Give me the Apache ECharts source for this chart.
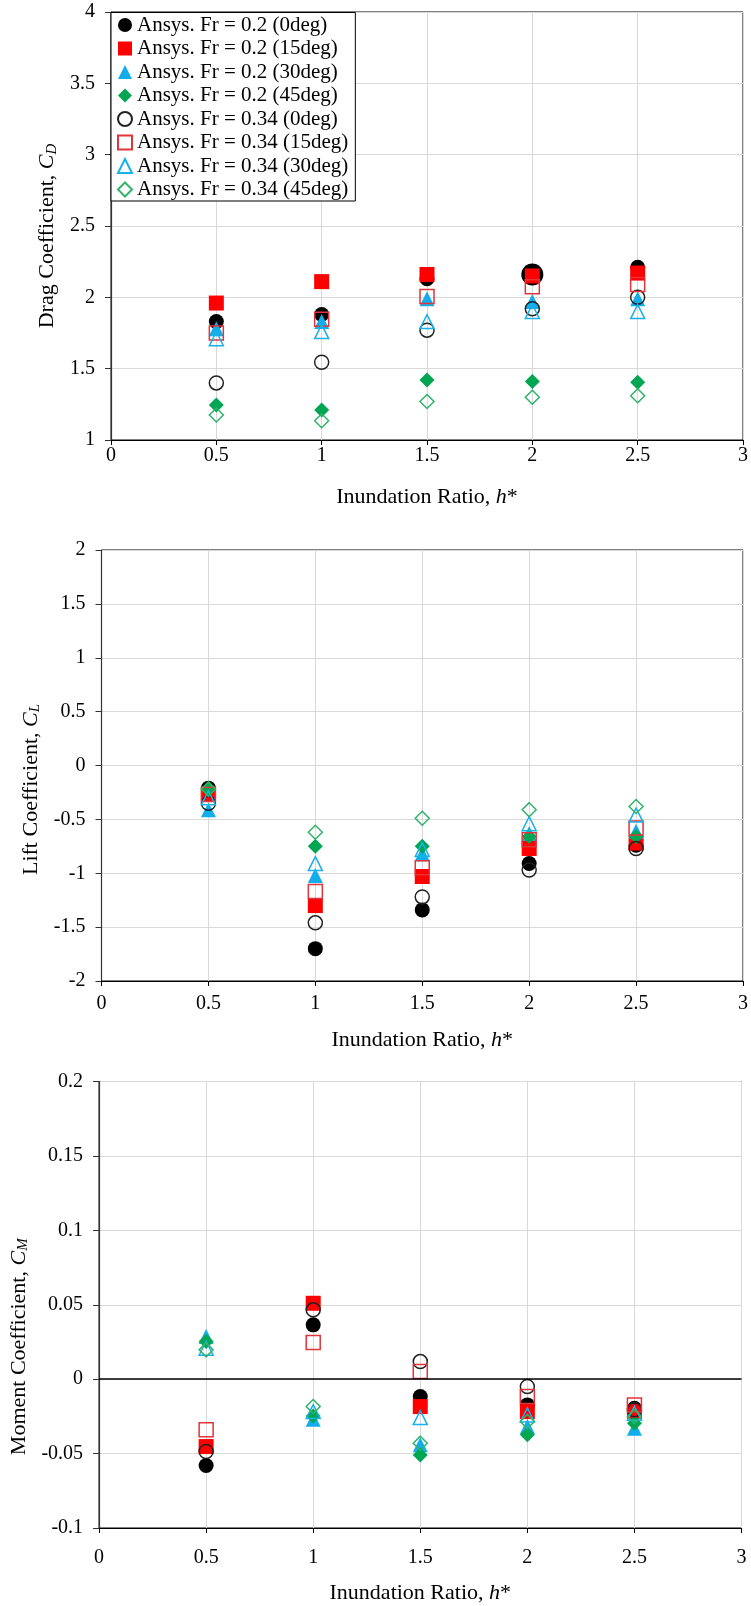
<!DOCTYPE html>
<html>
<head>
<meta charset="utf-8">
<script src="https://cdn.jsdelivr.net/npm/echarts@6/dist/echarts.min.js"></script>
<style>
html,body{margin:0;padding:0;background:#fff;}
#chart{width:751px;height:1606px;}
</style>
</head>
<body>
<div id="chart"></div>
<script>
// ---------- data ----------
const hStar = [0.5, 1, 1.5, 2, 2.5];
const seriesNames = [
  'Ansys. Fr = 0.2 (0deg)', 'Ansys. Fr = 0.2 (15deg)', 'Ansys. Fr = 0.2 (30deg)', 'Ansys. Fr = 0.2 (45deg)',
  'Ansys. Fr = 0.34 (0deg)', 'Ansys. Fr = 0.34 (15deg)', 'Ansys. Fr = 0.34 (30deg)', 'Ansys. Fr = 0.34 (45deg)'
];
// Drag coefficient C_D
const cdFr02_0   = [1.83, 1.88, 2.13, 2.16, 2.21];
const cdFr02_15  = [1.96, 2.11, 2.16, 2.15, 2.17];
const cdFr02_30  = [1.78, 1.83, 1.99, 1.97, 1.99];
const cdFr02_45  = [1.245, 1.21, 1.42, 1.41, 1.405];
const cdFr034_0  = [1.40, 1.545, 1.77, 1.92, 2.00];
const cdFr034_15 = [1.75, 1.846, 2.005, 2.075, 2.09];
const cdFr034_30 = [1.71, 1.76, 1.83, 1.90, 1.90];
const cdFr034_45 = [1.175, 1.135, 1.27, 1.30, 1.31];
// Lift coefficient C_L
const clFr02_0   = [-0.21, -1.70, -1.34, -0.91, -0.74];
const clFr02_15  = [-0.26, -1.30, -1.03, -0.77, -0.72];
const clFr02_30  = [-0.41, -1.02, -0.82, -0.63, -0.61];
const clFr02_45  = [-0.21, -0.75, -0.75, -0.66, -0.66];
const clFr034_0  = [-0.35, -1.46, -1.22, -0.97, -0.77];
const clFr034_15 = [-0.27, -1.17, -0.95, -0.69, -0.58];
const clFr034_30 = [-0.30, -0.91, -0.78, -0.54, -0.46];
const clFr034_45 = [-0.22, -0.62, -0.49, -0.41, -0.38];
// Moment coefficient C_M
const cmFr02_0   = [-0.058, 0.0365, -0.0117, -0.0173, -0.0195];
const cmFr02_15  = [-0.0453, 0.051, -0.0184, -0.0218, -0.0218];
const cmFr02_30  = [0.0286, -0.0269, -0.044, -0.0318, -0.033];
const cmFr02_45  = [0.0253, -0.0247, -0.0509, -0.0374, -0.0296];
const cmFr034_0  = [-0.0486, 0.0466, 0.0118, -0.005, -0.0206];
const cmFr034_15 = [-0.034, 0.0246, 0.0051, -0.0117, -0.0173];
const cmFr034_30 = [0.0208, -0.0218, -0.0258, -0.024, -0.0229];
const cmFr034_45 = [0.0197, -0.0184, -0.043, -0.0285, -0.025];

const xTitle = 'Inundation Ratio, {i|h}*';
const yTitles = ['Drag Coefficient, {i|C}{s|D}', 'Lift Coefficient, {i|C}{s|L}', 'Moment Coefficient, {i|C}{s|M}'];
const yMin = [1, -2, -0.1], yMax = [4, 2, 0.2], yStep = [0.5, 0.5, 0.05];

const panels = [
  [cdFr02_0, cdFr02_15, cdFr02_30, cdFr02_45, cdFr034_0, cdFr034_15, cdFr034_30, cdFr034_45],
  [clFr02_0, clFr02_15, clFr02_30, clFr02_45, clFr034_0, clFr034_15, clFr034_30, clFr034_45],
  [cmFr02_0, cmFr02_15, cmFr02_30, cmFr02_45, cmFr034_0, cmFr034_15, cmFr034_30, cmFr034_45]
];

// ---------- styling ----------
const FONT = '"Liberation Serif", "Times New Roman", serif';
const markStyles = [
  {symbol: 'circle',   color: '#000000', filled: true},
  {symbol: 'rect',     color: '#ff0000', filled: true},
  {symbol: 'triangle', color: '#12adea', filled: true},
  {symbol: 'diamond',  color: '#00a651', filled: true},
  {symbol: 'circle',   color: '#222222', filled: false},
  {symbol: 'rect',     color: '#e0353b', filled: false},
  {symbol: 'triangle', color: '#1ab0ea', filled: false},
  {symbol: 'diamond',  color: '#2fb36a', filled: false}
];
const grids = [
  {left: 111, top: 12, width: 634.5, height: 428},
  {left: 101.5, top: 550, width: 646, height: 431},
  {left: 93.5, top: 1081.5, width: 648, height: 446.5}
];
const xLabelMargin = [6, 13, 20];
const xNameGap = [46, 48, 54];
const yNameGap = [48, 51, 49];
const yNameShift = [20, 48, 84];

const richName = {
  i: {fontFamily: FONT, fontStyle: 'italic', fontSize: 22, color: '#000'},
  s: {fontFamily: FONT, fontStyle: 'italic', fontSize: 15, color: '#000', verticalAlign: 'bottom', padding: [8, 0, 0, 0]}
};

const series = [];
panels.forEach((panel, p) => {
  panel.forEach((vals, k) => {
    const st = markStyles[k];
    const s = {
      name: seriesNames[k],
      type: 'scatter',
      xAxisIndex: p,
      yAxisIndex: p,
      symbol: st.symbol,
      symbolSize: st.filled ? 15 : 14,
      itemStyle: st.filled
        ? {color: st.color, opacity: 1}
        : {color: 'rgba(255,255,255,0)', borderColor: st.color, borderWidth: 1.5, opacity: 1},
      emphasis: {disabled: true},
      data: hStar.map((h, j) => [h, vals[j]]),
      z: 2 + k * 0.01
    };
    if (p === 0 && k === 0) {
      s.symbolSize = (v, params) => params.dataIndex === 3 ? 22 : 15;
    }
    if (p === 2 && k === 0) {
      s.markLine = {
        silent: true, symbol: 'none', animation: false,
        label: {show: false},
        lineStyle: {color: '#000', width: 1.5, type: 'solid', opacity: 1},
        data: [{yAxis: 0}]
      };
    }
    series.push(s);
  });
});

const option = {
  animation: false,
  backgroundColor: '#fff',
  textStyle: {fontFamily: FONT},
  legend: {
    orient: 'vertical',
    left: 111, top: 12.5,
    padding: [2, 7, 1, 6],
    itemWidth: 14, itemHeight: 14, itemGap: 2.5,
    backgroundColor: '#fff', borderColor: '#000', borderWidth: 1,
    textStyle: {fontFamily: FONT, fontSize: 21, color: '#000', lineHeight: 21},
    data: seriesNames
  },
  grid: grids.map(g => Object.assign({show: true, borderColor: '#000', borderWidth: 1, backgroundColor: 'rgba(0,0,0,0)'}, g)),
  xAxis: [0, 1, 2].map(i => ({
    gridIndex: i, type: 'value', min: 0, max: 3, interval: 0.5,
    axisLine: {show: true, onZero: false, lineStyle: {color: '#000', width: 1.2}},
    axisTick: {show: true, inside: false, length: 5, lineStyle: {color: '#000'}},
    axisLabel: {fontFamily: FONT, fontSize: 20, color: '#000', margin: xLabelMargin[i]},
    splitLine: {show: true, lineStyle: {color: '#d9d9d9', width: 1}},
    name: xTitle, nameLocation: 'middle', nameGap: xNameGap[i],
    nameTextStyle: {fontFamily: FONT, fontSize: 22, color: '#000', rich: richName}
  })),
  yAxis: [0, 1, 2].map(i => ({
    gridIndex: i, type: 'value', min: yMin[i], max: yMax[i], interval: yStep[i],
    axisLine: {show: true, onZero: false, lineStyle: {color: '#333', width: 1.2}},
    axisTick: {show: true, inside: false, length: 6, lineStyle: {color: '#333'}},
    axisLabel: {fontFamily: FONT, fontSize: 20, color: '#000', margin: 16,
      formatter: v => String(+v.toFixed(3))},
    splitLine: {show: true, lineStyle: {color: '#d9d9d9', width: 1}},
    name: yTitles[i], nameLocation: 'middle', nameGap: yNameGap[i], nameRotate: 90,
    nameTextStyle: {fontFamily: FONT, fontSize: 22, color: '#000', rich: richName, padding: [0, yNameShift[i], 0, 0]}
  })),
  series: series
};

const chart = echarts.init(document.getElementById('chart'), null, {renderer: 'canvas'});
chart.setOption(option);
</script>
</body>
</html>
